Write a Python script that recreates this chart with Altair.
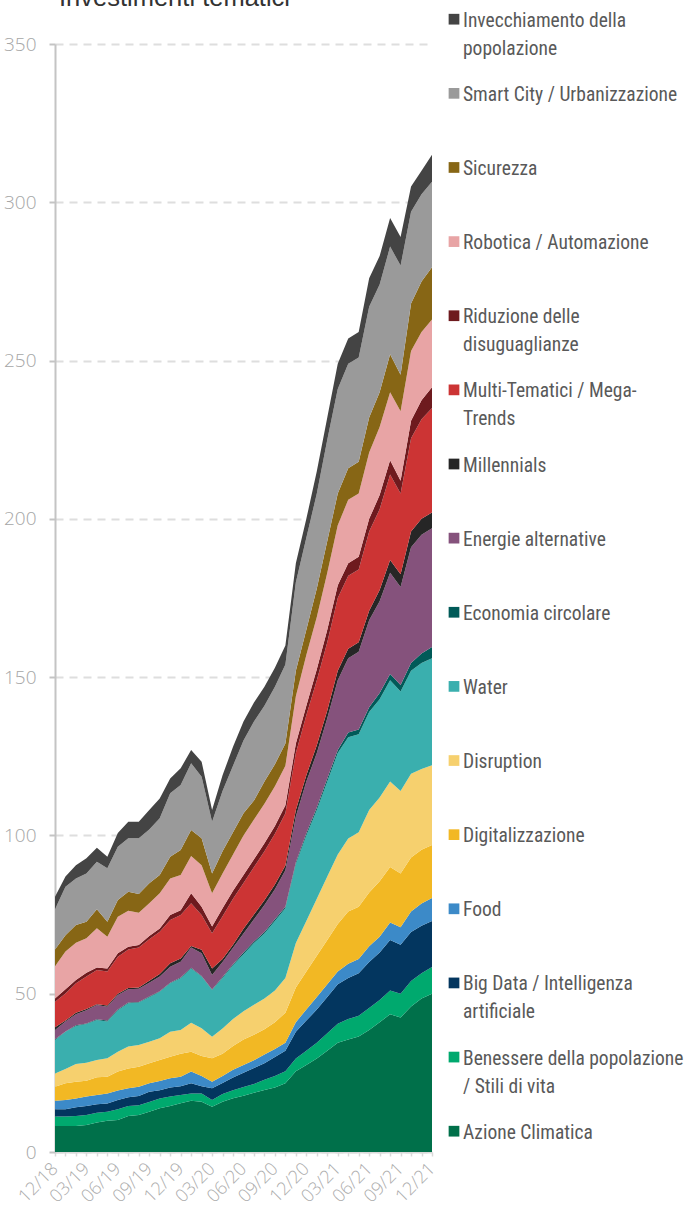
import json
import altair as alt
import pandas as pd

# Month labels, 12/2018 .. 12/2021
months = ["12/18",
          "01/19", "02/19", "03/19", "04/19", "05/19", "06/19", "07/19", "08/19", "09/19", "10/19", "11/19", "12/19",
          "01/20", "02/20", "03/20", "04/20", "05/20", "06/20", "07/20", "08/20", "09/20", "10/20", "11/20", "12/20",
          "01/21", "02/21", "03/21", "04/21", "05/21", "06/21", "07/21", "08/21", "09/21", "10/21", "11/21", "12/21"]

# Series, bottom of the stack first
azione = [8.2, 8.2, 8.2, 8.5, 9.3, 9.9, 10.1, 11.4, 11.7, 12.7, 13.8, 14.5, 15.4, 16.2, 15.9, 14.3, 15.9, 17.0, 17.8,
          18.7, 19.6, 20.4, 21.7, 25.5, 27.5, 29.5, 32.0, 34.5, 35.5, 36.5, 38.5, 41.0, 43.5, 42.5, 46.0, 48.5, 50.0]
benessere = [3.0, 3.0, 3.2, 3.2, 3.1, 2.8, 3.4, 3.1, 3.1, 3.1, 3.1, 3.0, 2.6, 2.3, 2.6, 2.1, 2.4, 2.5, 2.7,
             2.8, 3.2, 3.6, 3.8, 4.0, 4.5, 5.0, 5.5, 6.0, 6.5, 6.5, 7.0, 7.0, 7.5, 7.5, 8.0, 8.0, 8.4]
big_data = [2.3, 2.3, 2.7, 2.8, 2.7, 2.6, 2.9, 2.8, 2.9, 3.2, 2.6, 2.9, 2.8, 3.2, 2.3, 3.7, 3.5, 4.0, 4.5,
            5.0, 5.2, 6.0, 6.5, 8.5, 9.5, 10.5, 11.5, 12.5, 13.0, 13.5, 14.5, 15.0, 16.0, 15.5, 15.5, 15.0, 14.6]
food = [2.7, 2.9, 2.8, 3.0, 2.9, 3.2, 3.0, 2.8, 2.9, 2.7, 2.9, 2.9, 3.0, 3.7, 3.2, 2.1, 2.2, 2.5, 2.5,
        2.5, 2.8, 2.5, 2.5, 3.0, 3.5, 4.0, 4.0, 4.0, 4.5, 4.5, 5.0, 5.0, 5.5, 5.5, 6.5, 7.0, 7.2]
digitalizzazione = [4.4, 5.3, 5.3, 5.0, 5.6, 5.3, 6.0, 6.3, 6.3, 6.3, 6.7, 6.8, 7.2, 6.3, 6.3, 7.4, 7.0, 7.5, 8.0,
                    8.0, 8.0, 8.5, 9.5, 11.0, 12.0, 13.0, 14.0, 15.0, 16.5, 16.5, 17.0, 17.5, 17.5, 17.0, 17.0, 17.0, 16.8]
disruption = [4.2, 4.5, 5.6, 5.7, 5.5, 5.8, 6.3, 6.9, 6.9, 6.8, 6.8, 7.9, 7.5, 9.1, 8.8, 6.8, 8.0, 8.5, 9.0,
              9.5, 9.7, 10.0, 11.0, 14.0, 16.0, 18.0, 20.0, 22.0, 23.0, 23.5, 26.0, 26.5, 27.0, 26.0, 26.5, 25.5, 25.2]
water = [10.6, 11.8, 12.0, 12.2, 12.6, 11.6, 13.1, 13.7, 13.4, 14.1, 14.7, 15.3, 16.4, 17.2, 16.3, 14.8, 16.0, 17.0, 18.0,
         19.5, 20.5, 22.0, 22.0, 25.0, 27.0, 28.0, 30.0, 32.0, 32.0, 31.0, 31.0, 31.0, 32.0, 31.5, 32.5, 33.5, 33.8]
economia = [0.2, 0.1, 0.2, 0.2, 0.2, 0.3, 0.2, 0.2, 0.2, 0.2, 0.2, 0.2, 0.2, 0.2, 0.2, 0.1, 0.3, 0.3, 0.5,
            0.5, 0.5, 0.5, 0.5, 0.5, 0.7, 0.8, 1.0, 1.0, 1.5, 1.5, 1.5, 2.0, 2.0, 2.0, 2.5, 3.0, 3.5]
energie = [2.9, 3.1, 3.5, 4.2, 4.5, 4.4, 4.6, 4.2, 4.2, 4.4, 4.6, 5.0, 5.0, 6.4, 7.2, 4.6, 4.7, 5.2, 6.0,
           7.0, 8.5, 9.5, 11.5, 14.5, 16.3, 17.2, 19.0, 22.0, 23.5, 24.5, 27.5, 29.0, 32.0, 31.0, 36.5, 37.5, 37.5]
millennials = [0.9, 0.3, 0.5, 0.4, 0.3, 0.4, 0.4, 0.4, 0.4, 0.6, 0.8, 1.1, 1.0, 0.5, 1.1, 2.1, 1.0, 1.0, 1.5,
               1.5, 1.5, 1.5, 1.5, 2.0, 2.0, 2.5, 2.5, 3.0, 3.0, 3.0, 3.0, 3.5, 4.0, 4.0, 5.0, 5.0, 5.0]
multi = [8.1, 8.6, 9.3, 10.2, 10.8, 10.7, 11.7, 12.2, 12.6, 13.1, 13.4, 13.7, 13.8, 13.5, 11.0, 11.1, 13.5, 14.5, 14.5,
         15.0, 15.5, 16.0, 16.5, 18.0, 19.0, 20.5, 21.5, 23.0, 23.0, 23.0, 25.0, 25.5, 27.0, 25.5, 29.5, 31.5, 33.0]
riduzione = [1.0, 1.3, 1.0, 1.2, 0.8, 1.0, 1.1, 0.8, 0.8, 1.0, 1.0, 1.6, 1.5, 3.1, 2.6, 2.1, 2.5, 2.5, 2.5,
             2.5, 2.5, 2.5, 2.5, 3.0, 3.0, 3.5, 4.0, 4.0, 4.0, 4.0, 4.0, 4.5, 4.5, 4.0, 5.5, 6.0, 6.6]
robotica = [10.2, 11.9, 11.8, 10.9, 12.4, 10.0, 11.5, 11.4, 10.2, 10.4, 11.1, 11.5, 11.1, 11.8, 13.1, 10.5, 11.0, 11.5, 12.5,
            12.5, 12.5, 12.5, 12.5, 15.0, 16.0, 16.5, 18.0, 19.0, 20.0, 20.0, 21.0, 21.5, 21.5, 22.0, 22.0, 21.5, 21.4]
sicurezza = [5.3, 5.2, 5.6, 5.2, 6.0, 4.7, 5.3, 6.0, 5.9, 6.3, 5.8, 6.9, 7.9, 8.2, 8.5, 6.3, 7.0, 7.0, 7.0,
             6.0, 7.0, 7.0, 7.0, 8.0, 8.0, 9.0, 10.0, 10.0, 10.0, 10.0, 11.0, 11.0, 12.0, 11.5, 15.0, 16.0, 16.5]
smart_city = [12.7, 15.3, 14.7, 15.3, 15.0, 16.9, 16.8, 16.9, 17.6, 17.0, 17.9, 20.0, 20.5, 21.1, 19.4, 16.3, 19.0, 21.0, 23.0,
              25.0, 24.0, 24.5, 25.0, 28.0, 29.0, 30.0, 32.0, 33.0, 33.0, 33.0, 35.0, 34.0, 34.0, 34.5, 29.0, 27.5, 27.0]
invecchiamento = [3.9, 3.2, 4.2, 4.8, 4.4, 3.7, 4.4, 5.2, 5.2, 6.1, 6.3, 4.7, 5.3, 4.2, 4.8, 3.7, 5.0, 6.0, 6.0,
                  6.0, 6.0, 6.0, 6.0, 6.0, 6.0, 7.0, 7.0, 8.0, 8.0, 8.0, 9.0, 9.0, 9.0, 9.0, 8.0, 7.5, 8.5]

series_names = ["Azione Climatica",
                "Benessere della popolazione / Stili di vita",
                "Big Data / Intelligenza artificiale",
                "Food",
                "Digitalizzazione",
                "Disruption",
                "Water",
                "Economia circolare",
                "Energie alternative",
                "Millennials",
                "Multi-Tematici / Mega-Trends",
                "Riduzione delle disuguaglianze",
                "Robotica / Automazione",
                "Sicurezza",
                "Smart City / Urbanizzazione",
                "Invecchiamento della popolazione"]

legend_labels = ["Azione Climatica",
                 "Benessere della popolazione\n/ Stili di vita",
                 "Big Data / Intelligenza\nartificiale",
                 "Food",
                 "Digitalizzazione",
                 "Disruption",
                 "Water",
                 "Economia circolare",
                 "Energie alternative",
                 "Millennials",
                 "Multi-Tematici / Mega-\nTrends",
                 "Riduzione delle\ndisuguaglianze",
                 "Robotica / Automazione",
                 "Sicurezza",
                 "Smart City / Urbanizzazione",
                 "Invecchiamento della\npopolazione"]

palette = ["#00704A", "#00A96E", "#03365F", "#3C8AC8", "#F2B824", "#F6D06E", "#3AAFAE", "#005A58",
           "#85527C", "#262626", "#CC3434", "#6E1A1E", "#E8A4A5", "#876615", "#9A9A9A", "#444444"]

series_values = [azione, benessere, big_data, food, digitalizzazione, disruption, water, economia,
                 energie, millennials, multi, riduzione, robotica, sicurezza, smart_city, invecchiamento]

rows = []
for k, (name, vals) in enumerate(zip(series_names, series_values)):
    for t, v in enumerate(vals):
        rows.append({"t": t, "mese": months[t], "serie": name, "valore": v, "ordine": k})
df = pd.DataFrame(rows)

legend_df = pd.DataFrame({
    "serie": series_names,
    "etichetta": legend_labels,
    "riga": [len(series_names) - 1 - k for k in range(len(series_names))],
})

color_scale = alt.Scale(domain=series_names, range=palette)
label_expr = f"datum.value % 3 == 0 ? {json.dumps(months)}[datum.value] : ''"

PLOT_W, PLOT_H = 377, 1108

areas = alt.Chart(df).mark_area(interpolate="linear").encode(
    x=alt.X("t:Q",
            scale=alt.Scale(domain=[0, 36], nice=False, zero=False),
            axis=alt.Axis(values=list(range(37)), labelExpr=label_expr, title=None, grid=False,
                          labelAngle=-45, labelAlign="right", labelBaseline="middle",
                          labelPadding=10, labelFontSize=18, labelColor="#ABABAB",
                          labelFont="Open Sans", labelFontWeight=300,
                          domainColor="#D9D9D9", domainWidth=2,
                          tickColor="#D9D9D9", tickWidth=1.5, tickSize=4, labelOverlap=False)),
    y=alt.Y("valore:Q", stack="zero",
            scale=alt.Scale(domain=[0, 350], nice=False),
            axis=alt.Axis(values=[0, 50, 100, 150, 200, 250, 300, 350], title=None,
                          grid=True, gridColor="#DEDEDE", gridDash=[8, 6], gridWidth=2,
                          domainColor="#C4C4C4", domainWidth=2,
                          tickColor="#C4C4C4", tickWidth=2, tickSize=6,
                          labelPadding=13, labelFontSize=19, labelColor="#A6A6A6",
                          labelFont="Open Sans", labelFontWeight=300)),
    color=alt.Color("serie:N", scale=color_scale, legend=None),
    order=alt.Order("ordine:Q", sort="ascending"),
)

legend_y = alt.Y("riga:Q", scale=alt.Scale(domain=[0, 15], range=[-24.8, 1087.2]), axis=None)

legend_marks = alt.Chart(legend_df).mark_square(size=115, opacity=1).encode(
    x=alt.value(399),
    y=legend_y,
    color=alt.Color("serie:N", scale=color_scale, legend=None),
)

legend_text = alt.Chart(legend_df).mark_text(
    align="left", baseline="alphabetic", dy=7.5, fontSize=19.5,
    font="Liberation Sans Narrow, Arial Narrow, Roboto Condensed, Liberation Sans, sans-serif",
    color="#595959", lineBreak="\n", lineHeight=28,
).encode(
    x=alt.value(408),
    y=legend_y,
    text="etichetta:N",
)

title = alt.Chart(pd.DataFrame({"titolo": ["Investimenti tematici"]})).mark_text(
    align="left", baseline="alphabetic", fontSize=25.5, font="Liberation Sans", color="#333333",
).encode(
    x=alt.value(4),
    y=alt.value(-38),
    text="titolo:N",
)

chart = alt.layer(areas, legend_marks, legend_text, title).resolve_scale(
    y="independent"
).properties(
    width=PLOT_W, height=PLOT_H,
    autosize=alt.AutoSizeParams(type="none"),
    padding={"left": 55, "top": 44, "right": 694 - 55 - PLOT_W, "bottom": 1224 - 44 - PLOT_H},
).configure_view(stroke=None)

chart.save("out.html", embed_options={"renderer": "svg", "actions": False})
